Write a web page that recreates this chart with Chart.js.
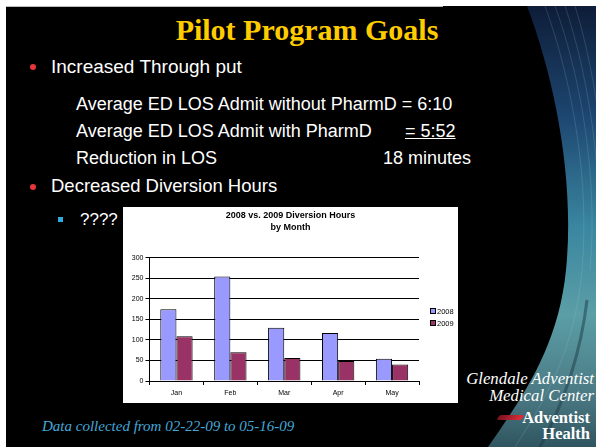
<!DOCTYPE html>
<html>
<head>
<meta charset="utf-8">
<script src="https://cdn.jsdelivr.net/npm/chart.js@4.4.0/dist/chart.umd.min.js"></script>
<style>
  html, body { margin:0; padding:0; background:#fff; }
  body { width:596px; height:447px; position:relative; overflow:hidden; }
  .t { position:absolute; white-space:nowrap; line-height:1; }
  .sans { font-family:"Liberation Sans", Arial, sans-serif; color:#fff; }
  .serif { font-family:"Liberation Serif", "Times New Roman", serif; }
  #chartBox { position:absolute; left:123px; top:207px; width:335px; height:196px; background:#fff; }
  .dot { position:absolute; width:6px; height:6px; border-radius:50%; background:#e8353a; }
</style>
</head>
<body>
<svg width="596" height="447" style="position:absolute;left:0;top:0">
  <defs>
    <linearGradient id="bg" x1="0" y1="0" x2="0" y2="1">
      <stop offset="0" stop-color="#0e1d38"/>
      <stop offset="0.25" stop-color="#1d4670"/>
      <stop offset="0.5" stop-color="#3a86a0"/>
      <stop offset="0.7" stop-color="#5b9ea6"/>
      <stop offset="0.88" stop-color="#4b7a84"/>
      <stop offset="1" stop-color="#2f5560"/>
    </linearGradient>
  </defs>
  <rect x="6" y="6" width="590" height="441" fill="#000"/>
  <path d="M527,6 C555,80 575,180 566,270 C558,350 520,400 488,447 L596,447 L596,6 Z" fill="url(#bg)"/>
  <g fill="none" stroke="#9fd0e0" stroke-opacity="0.18" stroke-width="1">
    <path d="M545,6 C572,80 590,180 582,270 C575,350 545,400 515,447"/>
    <path d="M555,6 C582,80 598,180 590,270"/>
    <path d="M565,6 C590,80 604,180 598,270"/>
    <path d="M575,6 C598,80 610,180 604,270"/>
  </g>
  <path d="M587,300 C580,360 560,410 540,447" fill="none" stroke="#1c3a44" stroke-opacity="0.5" stroke-width="3"/>
  <line x1="6" y1="6.5" x2="443" y2="6.5" stroke="#bbb" stroke-width="1"/>
</svg>

<div class="t serif" style="left:0;width:614px;text-align:center;top:15px;font-size:30px;font-weight:bold;color:#ffcc00;">Pilot Program Goals</div>

<div class="dot" style="left:30px;top:64px"></div>
<div class="t sans" style="left:51px;top:57px;font-size:19px">Increased Through put</div>
<div class="t sans" style="left:76px;top:95px;font-size:18px">Average ED LOS Admit without PharmD = 6:10</div>
<div class="t sans" style="left:76px;top:122px;font-size:18px">Average ED LOS Admit with PharmD</div>
<div class="t sans" style="left:405px;top:122px;font-size:18px;text-decoration:underline">= 5:52</div>
<div class="t sans" style="left:76px;top:149px;font-size:18px">Reduction in LOS</div>
<div class="t sans" style="left:383px;top:149px;font-size:18px">18 minutes</div>
<div class="dot" style="left:30px;top:184px"></div>
<div class="t sans" style="left:51px;top:177px;font-size:18.5px">Decreased Diversion Hours</div>
<div style="position:absolute;left:58px;top:217px;width:5px;height:5px;background:#33aadd"></div>
<div class="t sans" style="left:80px;top:211px;font-size:17px">????</div>

<div id="chartBox"><canvas id="c" width="335" height="196"></canvas></div>

<div class="t serif" style="left:42px;top:419px;font-size:15px;font-style:italic;color:#45a8d8">Data collected from 02-22-09 to 05-16-09</div>

<div class="t serif" style="right:2px;top:371px;font-size:16.8px;font-style:italic;color:#fff;text-align:right">Glendale Adventist</div>
<div class="t serif" style="right:2px;top:388px;font-size:16.8px;font-style:italic;color:#fff;text-align:right">Medical Center</div>
<div style="position:absolute;left:498px;top:415px;width:25px;height:5px;background:linear-gradient(90deg,#7a1020,#e0303a);transform:skewX(-30deg);border-radius:2px"></div>
<div class="t serif" style="right:6px;top:410px;font-size:16.5px;font-weight:bold;color:#fff">Adventist</div>
<div class="t serif" style="right:6px;top:426px;font-size:16.5px;font-weight:bold;color:#fff">Health</div>

<script>
const months = ['Jan', 'Feb', 'Mar', 'Apr', 'May'];
const hours2008 = [175, 255, 130, 117, 54];
const hours2009 = [109, 70, 56, 49, 40];
const seriesNames = ['2008', '2009'];
const chartTitle = ['2008 vs. 2009 Diversion Hours', 'by Month'];
const yMax = 300;
const yStep = 50;

const FONT = 'Liberation Sans, Arial, sans-serif';

// Legend drawn to the right of the plot (Excel style), from the dataset labels/colours
const rightLegend = {
  id: 'rightLegend',
  afterDraw(chart) {
    const ctx = chart.ctx;
    const area = chart.chartArea;
    const rowH = 12;
    const ds = chart.data.datasets;
    const cy = (area.top + area.bottom) / 2 - 2;
    const y0 = cy - (ds.length - 1) * rowH / 2;
    ctx.save();
    ctx.font = '7.5px ' + FONT;
    ctx.textBaseline = 'middle';
    ctx.textAlign = 'left';
    ds.forEach((d, i) => {
      const y = Math.round(y0 + i * rowH);
      const x = Math.round(area.right + 11);
      ctx.fillStyle = d.backgroundColor;
      ctx.fillRect(x + 0.5, y - 2.5, 5, 5);
      ctx.strokeStyle = '#000';
      ctx.lineWidth = 1;
      ctx.strokeRect(x + 0.5, y - 2.5, 5, 5);
      ctx.fillStyle = '#000';
      ctx.fillText(d.label, x + 7, y + 0.5);
    });
    ctx.restore();
  }
};

new Chart(document.getElementById('c'), {
  type: 'bar',
  data: {
    labels: months,
    datasets: [
      { label: seriesNames[0], data: hours2008, backgroundColor: '#9999ff', borderColor: '#000', borderWidth: 1, categoryPercentage: 0.6, barPercentage: 1.0 },
      { label: seriesNames[1], data: hours2009, backgroundColor: '#993366', borderColor: '#000', borderWidth: 1, categoryPercentage: 0.6, barPercentage: 1.0 }
    ]
  },
  plugins: [rightLegend],
  options: {
    responsive: false,
    animation: false,
    devicePixelRatio: 1,
    layout: { padding: { left: 0, right: 0, top: 0, bottom: 0 } },
    plugins: {
      title: {
        display: true,
        text: chartTitle,
        color: '#000',
        font: { family: FONT, size: 9, weight: 'bold', lineHeight: 1.33 },
        padding: { top: 3, bottom: 24 }
      },
      legend: { display: false },
      tooltip: { enabled: false }
    },
    scales: {
      x: {
        afterFit: (s) => { s.height = 22; },
        grid: { display: true, drawOnChartArea: false, drawTicks: true, tickLength: 4, color: '#000', offset: true },
        border: { display: true, color: '#000' },
        ticks: { color: '#000', padding: 4, font: { family: FONT, size: 7 } }
      },
      y: {
        min: 0, max: yMax,
        afterFit: (s) => { s.width = 26.5; },
        grid: { color: '#000', tickLength: 4, drawTicks: true },
        border: { display: true, color: '#000' },
        ticks: { stepSize: yStep, color: '#000', padding: 2, font: { family: FONT, size: 7 } }
      },
      legendSpace: {
        type: 'linear',
        position: 'right',
        display: true,
        afterFit: (s) => { s.width = 39; },
        grid: { display: false, drawTicks: false },
        border: { display: false },
        ticks: { display: false }
      }
    }
  }
});
</script>
</body>
</html>
